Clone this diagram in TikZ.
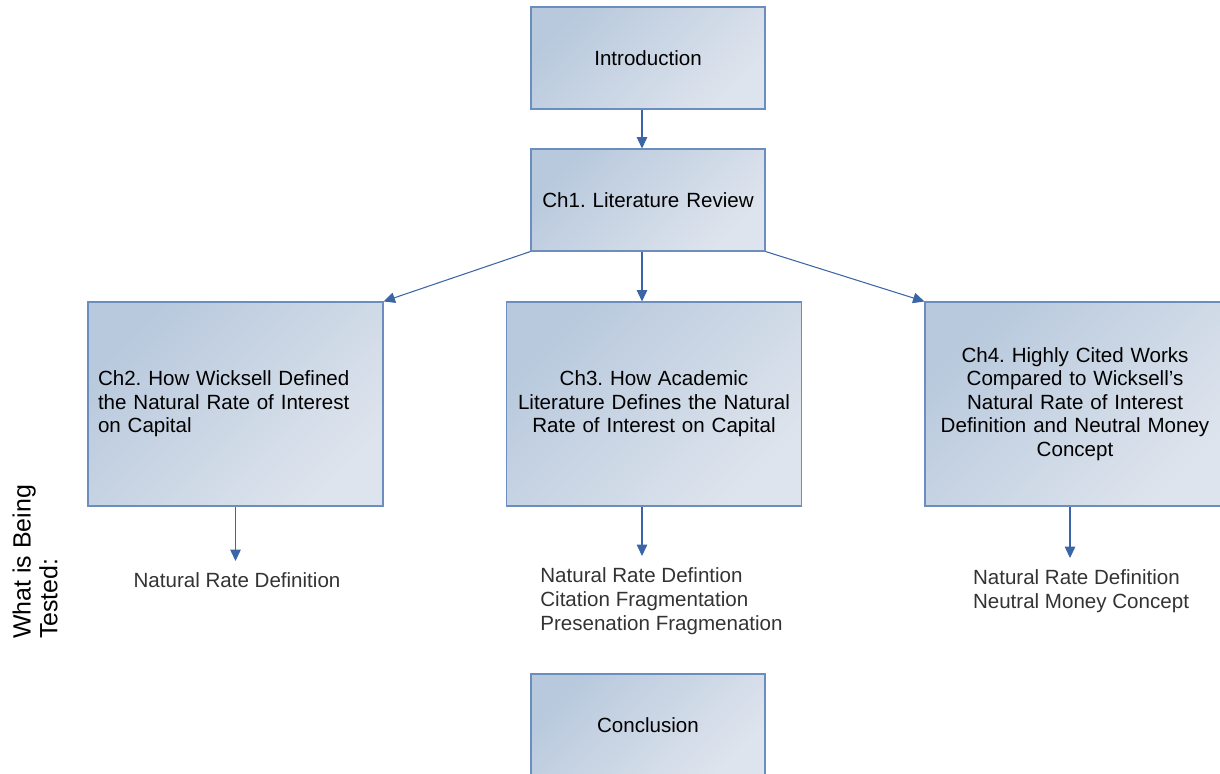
\documentclass[tikz,border=0pt]{standalone}
\usepackage{fontspec}
\setmainfont{Liberation Sans}
\usetikzlibrary{arrows.meta,positioning}
\definecolor{boxtop}{HTML}{B8C9DD}
\definecolor{boxbot}{HTML}{DEE4ED}
\definecolor{boxline}{HTML}{6C8EBF}
\definecolor{flowline}{HTML}{3A66A7}
\definecolor{testtext}{HTML}{333333}
\frenchspacing

\begin{document}
\begin{tikzpicture}[>={Triangle[length=6.5pt,width=6pt]},
        chapter/.style={rectangle, draw=boxline, line width=0.6pt, top color=boxtop, bottom color=boxbot, shading angle=45,
            inner xsep=0.2cm, text width=5.5cm, minimum height=4.08cm, text=black,
            font=\fontsize{11.7}{13.4}\selectfont},
        small chapter/.style={chapter, inner xsep=0.1cm, text width=4.48cm, minimum height=2.04cm, align=center},
        tested/.style={inner sep=0pt, align=left, text=testtext, font=\fontsize{11.7}{13.6}\selectfont},
        flow/.style={->, draw=flowline, line width=0.6pt}]

    \useasboundingbox (0,0) rectangle (24.4,-15.48);
    \clip (0,0) rectangle (24.4,-15.48);

    \node[small chapter] (intro) at (12.96,-1.16) {Introduction};
    \node[small chapter] (lit) at (12.96,-4.0) {Ch1. Literature Review};
    \node[chapter, align=left] (ch2) at (4.71,-8.08) {Ch2. How Wicksell Defined\\the Natural Rate of Interest\\on Capital};
    \node[chapter, align=center] (ch3) at (13.08,-8.08) {Ch3. How Academic\\Literature Defines the Natural\\Rate of Interest on Capital};
    \node[chapter, align=center, text width=5.6cm] (ch4) at (21.5,-8.08) {Ch4. Highly Cited Works\\Compared to Wicksell's\\Natural Rate of Interest\\Definition and Neutral Money\\Concept};
    \node[small chapter] (conc) at (12.96,-14.5) {Conclusion};

    % what each chapter tests
    \node[tested, anchor=north] (t2) at (4.74,-11.44) {Natural Rate Definition};
    \node[tested, anchor=north] (t3) at (13.23,-11.34) {Natural Rate Defintion\\Citation Fragmentation\\Presenation Fragmenation};
    \node[tested, anchor=north] (t4) at (21.62,-11.38) {Natural Rate Definition\\Neutral Money Concept};

    \node[rotate=90, align=left, inner sep=0pt, font=\fontsize{14.2}{15.2}\selectfont] (what) at (0.7,-11.24) {What is Being\\Tested:};

    \path
    ([xshift=-1.2mm]intro.south) edge[flow] ([xshift=-1.2mm]lit.north)
    (lit.south west) edge[flow] (ch2.north east)
    ([xshift=-1.2mm]lit.south) edge[flow] ([xshift=-1.2mm]lit.south |- ch3.north)
    (lit.south east) edge[flow] (ch4.north west);

    \path[every edge/.append style={shorten >=0.22cm}]
    (ch2.south) edge[flow] (ch2.south |- t2.north)
    ([xshift=-1.2mm]lit.south |- ch3.south) edge[flow] ([xshift=-1.2mm]lit.south |- t3.north)
    ([xshift=-1mm]ch4.south) edge[flow] ([xshift=-1mm]ch4.south |- t4.north);

\end{tikzpicture}
\end{document}
